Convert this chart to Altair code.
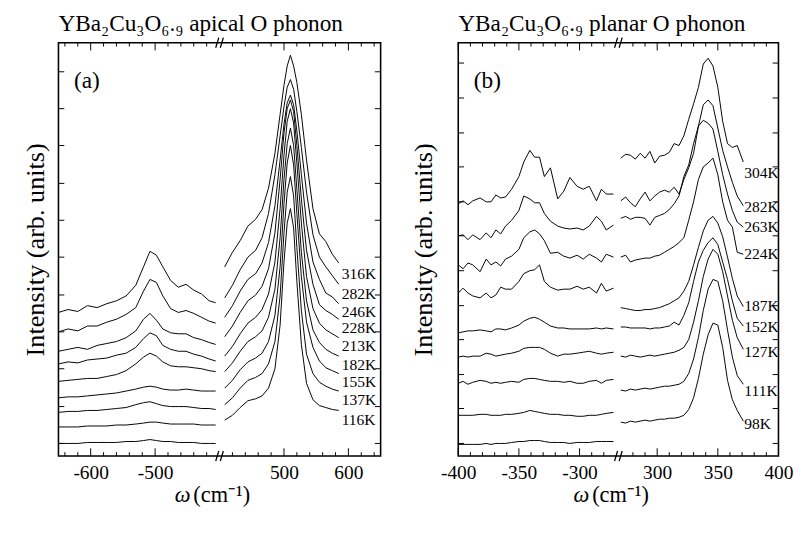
import altair as alt
import pandas as pd

FONT = "Liberation Serif"

# ---------------- panel (a): apical O phonon ----------------
A_TEMPS = ["316K", "282K", "246K", "228K", "213K", "182K", "155K", "137K", "116K"]
A_W_LEFT = [-650, -635, -620, -605, -590, -575, -560, -545, -530, -518, -508,
            -498, -488, -476, -464, -452, -440, -428, -416, -406]
A_I_LEFT = [
    [148, 151, 149, 155, 153, 157, 160, 165, 176, 195, 211, 207, 195, 181, 174, 177, 171, 167, 160, 158],
    [128, 131, 129, 134, 134, 138, 141, 146, 153, 170, 182, 179, 165, 152, 148, 150, 147, 143, 139, 137],
    [108, 110, 112, 110, 114, 116, 118, 122, 129, 141, 147, 140, 131, 127, 126, 126, 122, 120, 117, 115],
    [95, 97, 96, 99, 100, 101, 104, 106, 112, 121, 127, 124, 114, 110, 108, 108, 105, 103, 100, 98],
    [77, 78, 79, 80, 80, 82, 84, 88, 95, 102, 106, 103, 97, 93, 92, 92, 91, 90, 88, 87],
    [60, 61, 61, 62, 63, 64, 65, 67, 69, 71, 72, 71, 69, 68, 68, 69, 68, 67, 67, 67],
    [45, 46, 46, 47, 47, 48, 49, 50, 53, 55, 56, 54, 52, 51, 51, 51, 50, 49, 49, 48],
    [30, 30, 30, 31, 31, 31, 32, 32, 33, 34, 35, 35, 34, 33, 33, 33, 33, 32, 32, 32],
    [13, 13, 13, 14, 14, 14, 14, 15, 15, 16, 17, 16, 15, 15, 14, 14, 14, 13, 13, 13],
]
A_W_RIGHT = [408, 420, 432, 444, 456, 466, 476, 486, 494, 500, 505, 510, 515,
             520, 527, 535, 545, 555, 565, 575, 585]
A_I_RIGHT = [
    [195, 210, 222, 237, 244, 254, 276, 312, 352, 382, 402, 413, 402, 385, 352, 305, 255, 229, 221, 208, 199],
    [163, 176, 192, 205, 212, 225, 250, 290, 330, 360, 380, 388, 378, 355, 318, 272, 228, 205, 195, 186, 177],
    [143, 155, 170, 182, 188, 199, 220, 258, 305, 342, 364, 372, 362, 335, 290, 240, 200, 182, 168, 164, 157],
    [123, 134, 148, 160, 166, 175, 193, 230, 285, 333, 358, 367, 355, 320, 265, 212, 177, 156, 150, 146, 141],
    [103, 113, 126, 137, 143, 151, 167, 200, 255, 310, 345, 358, 343, 302, 240, 185, 152, 137, 130, 126, 122],
    [87, 96, 108, 118, 123, 129, 143, 172, 225, 285, 322, 338, 320, 275, 210, 160, 130, 117, 110, 106, 103],
    [70, 78, 89, 97, 101, 106, 118, 145, 195, 260, 302, 320, 300, 250, 185, 138, 112, 98, 91, 88, 85],
    [53, 60, 70, 78, 81, 85, 95, 118, 165, 230, 272, 288, 268, 215, 150, 105, 85, 76, 72, 69, 67],
    [37, 42, 50, 57, 59, 62, 70, 90, 135, 200, 240, 255, 235, 180, 115, 75, 58, 52, 50, 48, 47],
]
A_LABEL_W = 588
A_LABEL_I = [187, 167, 148, 132, 113, 94, 76, 58, 37]
A_MAJOR = [-600, -500, 500, 600]
A_MINOR = [-640, -620, -580, -560, -540, -520, -480, -460, -440, -420,
           420, 440, 460, 480, 520, 540, 560, 580, 620, 640]
A_YTICKS = [13, 51, 90, 128, 166, 205, 243, 281, 320, 358, 396]

# ---------------- panel (b): planar O phonon ----------------
B_TEMPS = ["304K", "282K", "263K", "224K", "187K", "152K", "127K", "111K", "98K"]
B_W_LEFT = [-400, -396, -392, -388, -382, -377, -373, -369, -365, -361, -356, -350,
            -346, -341, -337, -333, -329, -324, -318, -313, -308, -302, -297, -292,
            -286, -282, -278, -272]
B_I_LEFT = [
    [260, 263, 259, 263, 266, 262, 262, 269, 266, 267, 275, 288, 303, 315, 308, 308, 288, 297, 265, 273, 287, 278, 275, 278, 263, 275, 270, 270],
    [227, 228, 223, 228, 223, 230, 225, 233, 229, 237, 243, 253, 268, 265, 261, 261, 250, 242, 237, 235, 234, 235, 233, 237, 247, 242, 233, 238],
    [197, 193, 199, 197, 190, 203, 197, 200, 196, 203, 206, 213, 225, 231, 233, 229, 222, 209, 210, 206, 204, 207, 203, 208, 204, 200, 208, 205],
    [168, 173, 168, 165, 163, 168, 163, 166, 174, 172, 172, 180, 188, 191, 192, 197, 180, 174, 171, 172, 172, 175, 172, 174, 168, 178, 170, 173],
    [127, 128, 129, 129, 130, 129, 128, 131, 131, 130, 132, 135, 139, 142, 143, 141, 138, 134, 132, 132, 131, 131, 131, 131, 132, 131, 132, 131],
    [102, 103, 102, 103, 103, 106, 105, 103, 104, 105, 106, 108, 111, 112, 112, 112, 110, 106, 103, 105, 105, 106, 107, 108, 106, 105, 106, 107],
    [75, 77, 74, 76, 78, 77, 75, 76, 75, 76, 77, 76, 79, 80, 80, 79, 78, 77, 77, 76, 77, 75, 75, 77, 78, 75, 78, 79],
    [42, 42, 42, 42, 43, 43, 42, 42, 42, 43, 43, 44, 45, 47, 46, 45, 44, 43, 43, 42, 42, 41, 41, 42, 42, 43, 44, 45],
    [12, 12, 12, 12, 12, 13, 12, 13, 13, 13, 14, 15, 15, 16, 16, 16, 15, 14, 14, 14, 13, 14, 14, 14, 15, 15, 15, 15],
]
B_W_RIGHT = [270, 274, 278, 282, 286, 290, 294, 298, 302, 306, 310, 314, 318,
             322, 326, 330, 334, 338, 342, 346, 350, 354, 358, 362, 366, 371]
B_I_RIGHT = [
    [307, 311, 310, 306, 312, 307, 314, 302, 309, 310, 313, 322, 320, 330, 347, 363, 380, 404, 410, 402, 380, 345, 322, 318, 320, 303],
    [263, 267, 261, 257, 265, 272, 263, 268, 272, 274, 272, 277, 270, 285, 297, 312, 340, 362, 367, 361, 338, 315, 298, 282, 268, 258],
    [245, 247, 244, 246, 246, 245, 238, 246, 248, 250, 254, 260, 268, 288, 300, 322, 340, 346, 343, 337, 314, 290, 270, 253, 241, 236],
    [205, 207, 200, 202, 203, 204, 204, 206, 207, 210, 213, 216, 220, 225, 243, 262, 285, 298, 302, 307, 290, 262, 243, 236, 210, 208],
    [153, 152, 151, 150, 150, 151, 151, 152, 153, 155, 157, 160, 163, 170, 180, 197, 215, 232, 243, 247, 240, 226, 205, 183, 165, 154],
    [133, 133, 132, 132, 132, 132, 131, 132, 132, 133, 134, 138, 135, 145, 158, 180, 200, 212, 220, 225, 218, 200, 182, 160, 142, 134],
    [103, 102, 104, 103, 102, 103, 104, 103, 104, 105, 106, 107, 109, 112, 120, 138, 160, 185, 203, 213, 208, 190, 165, 140, 122, 110],
    [68, 67, 69, 68, 69, 70, 69, 70, 71, 72, 72, 73, 74, 77, 85, 100, 122, 150, 172, 182, 180, 160, 130, 102, 83, 74],
    [35, 34, 36, 35, 36, 37, 36, 37, 38, 38, 39, 39, 40, 42, 48, 60, 80, 105, 125, 137, 135, 112, 78, 58, 47, 36],
]
B_LABEL_W = 371
B_LABEL_I = [292, 256, 236, 208, 154, 133, 107, 67, 33]
B_MAJOR = [-400, -350, -300, 300, 350, 400]
B_MINOR = [-390, -380, -370, -360, -340, -330, -320, -310, -290, -280,
           280, 290, 310, 320, 330, 340, 360, 370, 380, 390]
B_YTICKS = [13, 49, 84, 120, 155, 191, 227, 262, 298, 333, 369, 405]

H = 426
BREAK_SHAPE = "M-0.75,1L-0.15,-1M0.15,1L0.75,-1"


def lines_frame(temps, wl, il, wr, ir):
    rows = []
    for t, ys in zip(temps, il):
        rows += [{"T": t, "seg": t + "-L", "w": w, "I": v} for w, v in zip(wl, ys)]
    for t, ys in zip(temps, ir):
        rows += [{"T": t, "seg": t + "-R", "w": w, "I": v} for w, v in zip(wr, ys)]
    return pd.DataFrame(rows)


def panel(title, tag, temps, wl, il, wr, ir, label_w, label_i, major, minor, yticks,
          cut, shift_pos, xmax, W, ytitle_pad):
    # broken axis: negative branch shifted by +cut, positive branch by -shift_pos
    xcalc = f"datum.w < 0 ? datum.w + {cut} : datum.w - {shift_pos}"
    brk = xmax / 2
    label_expr = f"'' + (datum.value < {brk} ? datum.value - {cut} : datum.value + {shift_pos})"
    major_pos = [w + cut if w < 0 else w - shift_pos for w in major]

    xs = alt.Scale(domain=[0, xmax], nice=False, zero=False)
    ys = alt.Scale(domain=[0, H], nice=False, zero=False)
    xaxis = alt.Axis(values=major_pos, labelExpr=label_expr, ticks=False, domain=False,
                     grid=False, labelFont=FONT, labelFontSize=20, labelColor="black",
                     labelPadding=7, labelFlush=False, labelOverlap=False, title=None)
    yaxis = alt.Axis(labels=False, ticks=False, domain=False, grid=False,
                     title="Intensity (arb. units)", titleFont=FONT, titleFontSize=27,
                     titleFontWeight="normal", titleColor="black",
                     titlePadding=ytitle_pad)
    X = alt.X("xp:Q", scale=xs, axis=xaxis)
    Y = alt.Y("I:Q", scale=ys, axis=yaxis)

    lines = alt.Chart(lines_frame(temps, wl, il, wr, ir)).transform_calculate(
        xp=xcalc).mark_line(color="black", strokeWidth=1).encode(
        x=X, y=Y, detail="seg:N")

    lab_df = pd.DataFrame({"T": temps, "w": [label_w] * len(temps), "I": label_i})
    labels = alt.Chart(lab_df).transform_calculate(xp=xcalc).mark_text(
        align="left", baseline="middle", font=FONT, fontSize=16, dx=1,
        color="black").encode(x=X, y=Y, text="T:N")

    maj_df = pd.DataFrame({"w": major})
    min_df = pd.DataFrame({"w": minor})
    tick_layers = []
    for df, ln in ((maj_df, 8), (min_df, 4)):
        base = alt.Chart(df).transform_calculate(xp=xcalc).mark_rule(
            color="black", strokeWidth=1)
        tick_layers.append(base.encode(x=X, y=alt.value(H), y2=alt.value(H - ln)))
        tick_layers.append(base.encode(x=X, y=alt.value(0), y2=alt.value(ln)))

    yt_df = pd.DataFrame({"I": yticks})
    ybase = alt.Chart(yt_df).mark_rule(color="black", strokeWidth=1)
    yt_left = ybase.encode(y=Y, x=alt.value(0), x2=alt.value(6))
    yt_right = ybase.encode(y=Y, x=alt.value(W - 6), x2=alt.value(W))

    # axis-break marks "//" drawn as a small path symbol on both frame edges
    brk_df = pd.DataFrame({"xp": [brk]})
    bbase = alt.Chart(brk_df).mark_point(shape=BREAK_SHAPE, size=110, filled=False,
                                         color="black", strokeWidth=1.3, opacity=1)
    brk_bot = bbase.encode(x=X, y=alt.value(H))
    brk_top = bbase.encode(x=X, y=alt.value(0))

    one = pd.DataFrame({"t": [tag], "w": ["ω"], "u": ["(cm⁻¹)"]})
    tag_mark = alt.Chart(one).mark_text(
        align="left", baseline="middle", font=FONT, fontSize=24, color="black").encode(
        x=alt.value(16), y=alt.value(40), text="t:N")
    omega = alt.Chart(one).mark_text(
        align="right", baseline="alphabetic", font=FONT, fontSize=23, fontStyle="italic",
        color="black").encode(x=alt.value(W / 2 - 30), y=alt.value(H + 47), text="w:N")
    unit = alt.Chart(one).mark_text(
        align="left", baseline="alphabetic", font=FONT, fontSize=23,
        color="black").encode(x=alt.value(W / 2 - 27), y=alt.value(H + 47), text="u:N")

    return alt.layer(lines, labels, *tick_layers, yt_left, yt_right, brk_bot, brk_top,
                     tag_mark, omega, unit).properties(
        width=W, height=H,
        title=alt.TitleParams(title, anchor="start", frame="group", font=FONT,
                              fontSize=24, fontWeight="normal", color="black", offset=-1))


pa = panel("YBa₂Cu₃O₆.₉ apical O phonon", "(a)", A_TEMPS, A_W_LEFT, A_I_LEFT,
           A_W_RIGHT, A_I_RIGHT, A_LABEL_W, A_LABEL_I, A_MAJOR, A_MINOR, A_YTICKS,
           650, 150, 500, 332, 9)
pb = panel("YBa₂Cu₃O₆.₉ planar O phonon", "(b)", B_TEMPS, B_W_LEFT, B_I_LEFT,
           B_W_RIGHT, B_I_RIGHT, B_LABEL_W, B_LABEL_I, B_MAJOR, B_MINOR, B_YTICKS,
           400, 136, 264, 330, 22)

chart = alt.hconcat(pa, pb, spacing=27).properties(
    padding={"left": 14, "top": -4, "right": 0, "bottom": 0}
).configure_view(stroke="black", strokeWidth=1.6)

chart.save("out.html", embed_options={"renderer": "svg", "actions": False})
